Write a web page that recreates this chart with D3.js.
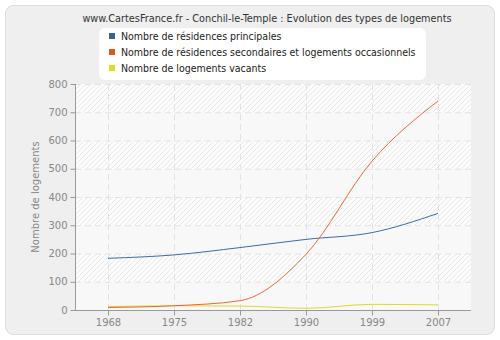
<!DOCTYPE html>
<html><head><meta charset="utf-8">
<script src="https://cdn.jsdelivr.net/npm/d3@7"></script>
<style>body{margin:0;background:#fff}svg{display:block;font-family:"DejaVu Sans",Verdana,sans-serif}</style>
</head><body>
<script>
const years = ["1968","1975","1982","1990","1999","2007"];
const principales = [183, 195, 221, 250, 274, 342];
const secondaires = [9, 15, 33, 197, 527, 740];
const vacants = [12, 15, 14, 6, 20, 18];
const yTicks = [0,100,200,300,400,500,600,700,800];
const seriesNames = ["Nombre de résidences principales","Nombre de résidences secondaires et logements occasionnels","Nombre de logements vacants"];
const seriesColors = ["#3a6ea5","#e8693a","#e0d830"];
const legendColors = ["#336699","#dd5522","#dddd22"];
const title = "www.CartesFrance.fr - Conchil-le-Temple : Evolution des types de logements";

const W=500,H=340;
const svg=d3.select("body").append("svg").attr("width",W).attr("height",H);
svg.append("rect").attr("x",5.5).attr("y",5.5).attr("width",489).attr("height",329).attr("rx",8)
  .attr("fill","#efefef").attr("stroke","#dcdcdc");

const L=75,R=471,T=84,B=310;
const x=d3.scalePoint().domain(years).range([L,R]).padding(0.5);
const y=d3.scaleLinear().domain([0,800]).range([B,T]);

const defs=svg.append("defs");
const pat=defs.append("pattern").attr("id","hatch").attr("patternUnits","userSpaceOnUse").attr("width",5).attr("height",5);
pat.append("rect").attr("width",5).attr("height",5).attr("fill","#fcfcfc");
pat.append("path").attr("d","M0,5 L5,0 M-1,1 L1,-1 M4,6 L6,4").attr("stroke","#e8e8e8").attr("stroke-width",1);

svg.append("rect").attr("x",L).attr("y",T).attr("width",R-L).attr("height",B-T).attr("fill","#f8f8f8");
for(let i=0;i<yTicks.length-1;i++){
  if(i%2===1){
    svg.append("rect").attr("x",L).attr("y",y(yTicks[i+1])).attr("width",R-L).attr("height",y(yTicks[i])-y(yTicks[i+1])).attr("fill","url(#hatch)");
  }
}
// grid
svg.append("g").selectAll("line").data(yTicks.slice(1)).join("line")
  .attr("x1",L).attr("x2",R).attr("y1",d=>y(d)+0.5).attr("y2",d=>y(d)+0.5)
  .attr("stroke","#e2e2e2").attr("stroke-dasharray","6,4");
svg.append("g").selectAll("line").data(years).join("line")
  .attr("x1",d=>Math.round(x(d))+0.5).attr("x2",d=>Math.round(x(d))+0.5).attr("y1",T).attr("y2",B)
  .attr("stroke","#e2e2e2").attr("stroke-dasharray","6,4");

// axes
const yAxis=svg.append("g").attr("transform",`translate(${L+0.5},0)`)
  .call(d3.axisLeft(y).tickValues(yTicks).tickSize(5).tickSizeOuter(0));
const xAxis=svg.append("g").attr("transform",`translate(0,${B+0.5})`)
  .call(d3.axisBottom(x).tickSize(5).tickSizeOuter(0));
[yAxis,xAxis].forEach(g=>{
  g.select(".domain").attr("stroke","#999");
  g.selectAll(".tick line").attr("stroke","#999");
  g.selectAll("text").attr("fill","#888").style("font-size","10px").style("font-family","DejaVu Sans, Verdana, sans-serif");
});
xAxis.select(".domain").attr("d",`M${L},0H${R}`);
yAxis.select(".domain").attr("d",`M0,${T}V${B}`);

svg.append("text").attr("transform",`translate(39,${(T+B)/2}) rotate(-90)`).attr("text-anchor","middle")
  .attr("fill","#888").style("font-size","10px").text("Nombre de logements");

const line=d3.line().x((d,i)=>x(years[i])).y(d=>y(d)).curve(d3.curveMonotoneX);
[vacants,principales,secondaires].forEach((s,k)=>{
  const idx=[2,0,1][k];
  svg.append("path").attr("d",line(s)).attr("fill","none").attr("stroke",seriesColors[idx]).attr("stroke-width",1);
});

// title
svg.append("text").attr("x",267).attr("y",22).attr("text-anchor","middle").attr("fill","#333")
  .style("font-family","DejaVu Sans Condensed, DejaVu Sans, sans-serif").style("font-size","10.8px").text(title);

// legend
const lg=svg.append("g");
lg.append("rect").attr("x",99).attr("y",28).attr("width",327).attr("height",52).attr("rx",6).attr("fill","#fff");
seriesNames.forEach((n,i)=>{
  lg.append("rect").attr("x",109).attr("y",33+i*16).attr("width",6).attr("height",6).attr("fill",legendColors[i]);
  lg.append("text").attr("x",121).attr("y",40+i*16).attr("fill","#222")
    .style("font-family","DejaVu Sans Condensed, DejaVu Sans, sans-serif").style("font-size","10.5px").text(n);
});
</script>
</body></html>
